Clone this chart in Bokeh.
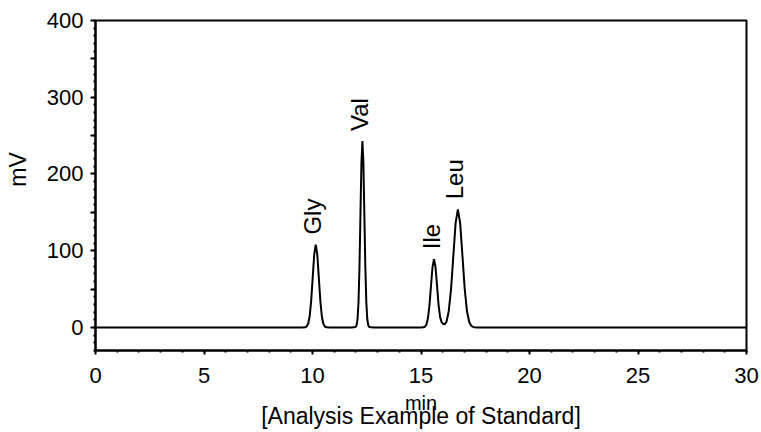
from math import pi
from bokeh.plotting import figure
from bokeh.models import FixedTicker, Range1d, ColumnDataSource, LinearAxis
from bokeh.core.properties import value
from bokeh.embed import file_html
from bokeh.resources import INLINE

# ---- data ----
time_min = [0.0, 9.50, 9.66, 9.73, 9.80, 9.87, 9.94, 10.01, 10.08, 10.15, 10.22, 10.29, 10.36, 10.43,
            10.50, 10.57, 10.64, 10.80,
            11.80, 11.985, 12.03, 12.075, 12.12, 12.165, 12.21, 12.255, 12.30, 12.345, 12.39, 12.435,
            12.48, 12.525, 12.57, 12.615, 12.80,
            15.00, 15.11, 15.18, 15.25, 15.32, 15.39, 15.46, 15.53, 15.60, 15.67, 15.74, 15.81, 15.88,
            15.95, 16.02, 16.10, 16.175, 16.28, 16.385, 16.49, 16.595, 16.70, 16.805, 16.91, 17.015,
            17.12, 17.225, 17.33, 17.435, 17.60, 30.0]
signal_mv = [0, 0, 0.2, 1.2, 4.8, 14.6, 35.1, 65.6, 95.3, 108, 95.3, 65.6, 35.1, 14.6,
             4.8, 1.2, 0.2, 0,
             0, 0.5, 2.7, 10.7, 32.8, 79, 147.5, 214.3, 243, 214.3, 147.5, 79,
             32.8, 10.7, 2.7, 0.5, 0,
             0, 0.2, 1.0, 3.9, 12.0, 28.9, 54.0, 78.5, 89.0, 78.5, 54.0, 29.0, 13.5,
             7.0, 4.6, 4.3, 7.5, 21.5, 50.0, 93.4, 135.9, 154, 135.9, 93.4, 50.0,
             20.8, 6.8, 1.7, 0.34, 0, 0]

peak_names = ["Gly", "Val", "Ile", "Leu"]
peak_rt = [10.15, 12.30, 15.60, 16.70]
peak_mv = [108, 243, 89, 154]

x_ticks = [0, 5, 10, 15, 20, 25, 30]
x_minor = list(range(0, 31))
y_ticks = [0, 50, 100, 150, 200, 250, 300, 350, 400]
y_tick_labels = ["0", "", "100", "", "200", "", "300", "", "400"]
y_minor = list(range(-30, 401, 10))

x_label = "min"
y_label = "\u00a0\u00a0\u00a0\u00a0\u00a0mV"
caption = "[Analysis Example of Standard]"

FONT = "Liberation Sans"

p = figure(frame_width=651, frame_height=330,
           min_border_left=95, min_border_right=15, min_border_top=20, min_border_bottom=82,
           x_range=Range1d(0, 30), y_range=Range1d(-30, 400),
           output_backend="svg", toolbar_location=None)
p.xgrid.visible = False
p.ygrid.visible = False
p.outline_line_color = "black"
p.outline_line_width = 2
p.outline_line_alpha = 1
p.background_fill_color = "white"
p.border_fill_color = "white"

p.xaxis.ticker = FixedTicker(ticks=x_ticks, minor_ticks=x_minor)
p.yaxis.ticker = FixedTicker(ticks=y_ticks, minor_ticks=y_minor)
p.yaxis.major_label_overrides = {t: l for t, l in zip(y_ticks, y_tick_labels)}

for ax in (p.xaxis[0], p.yaxis[0]):
    ax.axis_line_color = "black"
    ax.axis_line_width = 2
    ax.major_tick_line_color = "black"
    ax.major_tick_line_width = 2
    ax.minor_tick_line_color = "black"
    ax.minor_tick_line_width = 2
    ax.major_tick_in = 0
    ax.minor_tick_in = 0
    ax.minor_tick_out = 2
    ax.major_label_text_font = FONT
    ax.major_label_text_font_size = "22px"
    ax.major_label_text_color = "black"
    ax.axis_label_text_font = FONT
    ax.axis_label_text_font_style = "normal"
    ax.axis_label_text_color = "black"

p.xaxis.major_tick_out = 4
p.xaxis.major_label_standoff = 13
p.xaxis.axis_label = x_label
p.xaxis.axis_label_text_font_size = "20px"
p.xaxis.axis_label_standoff = 6

p.yaxis.major_tick_out = 5
p.yaxis.major_label_standoff = 7
p.yaxis.axis_label = y_label
p.yaxis.axis_label_text_font_size = "23px"
p.yaxis.axis_label_standoff = 13

# caption as the label of a bare second bottom axis
cap_axis = LinearAxis(ticker=FixedTicker(ticks=[]), axis_label=caption,
                      axis_line_alpha=0, major_tick_out=0, major_tick_in=0,
                      minor_tick_out=0, minor_tick_in=0, major_label_standoff=0,
                      axis_label_standoff=-14, axis_label_text_font=FONT,
                      axis_label_text_font_size="23px", axis_label_text_font_style="normal",
                      axis_label_text_color="black")
p.add_layout(cap_axis, "below")

src = ColumnDataSource(dict(t=time_min, mv=signal_mv))
p.line("t", "mv", source=src, line_color="black", line_width=2)

lab = ColumnDataSource(dict(x=peak_rt, y=peak_mv, name=peak_names))
p.text(x="x", y="y", text="name", source=lab, angle=pi / 2,
       text_align="left", text_baseline="middle", x_offset=-3, y_offset=-10,
       text_font=value(FONT), text_font_size="24px", text_color="black")

open("out.html", "w").write(file_html(p, INLINE))
